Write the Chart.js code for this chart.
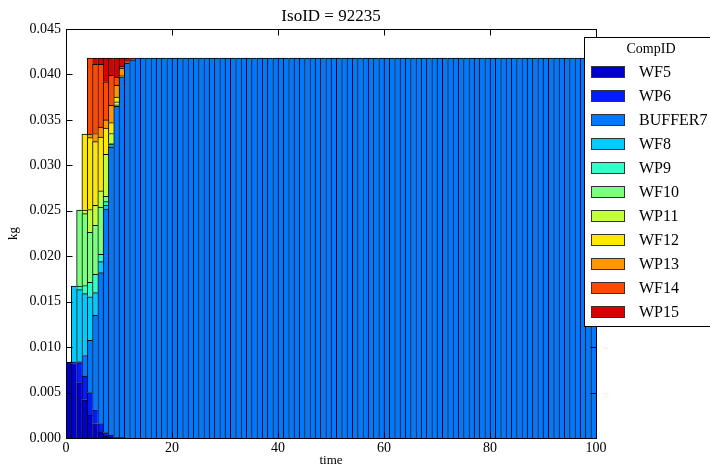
<!DOCTYPE html>
<html>
<head>
<meta charset="utf-8">
<script src="https://cdn.jsdelivr.net/npm/chart.js@4.4.1/dist/chart.umd.min.js"></script>
<style>
html,body{margin:0;padding:0;background:#fff;}
#wrap{width:710px;height:468px;position:relative;}
</style>
</head>
<body>
<div id="wrap"><canvas id="c" width="710" height="468"></canvas></div>
<script>
// time steps (one bar per step)
const times = Array.from({length: 100}, (_, i) => i);

const compIds = ['WF5', 'WP6', 'BUFFER7', 'WF8', 'WP9', 'WF10', 'WP11', 'WF12', 'WP13', 'WF14', 'WP15'];
const compColors = ['#0000cc', '#001cff', '#0078ff', '#00ccff', '#30ffc8', '#7aff7e', '#c2ff38', '#ffe800', '#ff9500', '#ff4800', '#d80000'];

// mass of U-235 (kg) held in each component at each time step
const wf5  = [0.00836, 0.0082, 0.0061, 0.0042, 0.0025, 0.0016, 0.0007, 0.0002, 0.0001, 0.00003, 0];
const wp6  = [0, 0.00016, 0.0022, 0.0026, 0.0025, 0.0015, 0.0009, 0.0004, 0.0002, 0.0001, 0.00004, 0];
const buffer7 = [0, 0, 0.00012, 0.00228, 0.00574, 0.0104, 0.0166, 0.0246, 0.0317, 0.03637, 0.03971, 0.04125, 0.0416,
  0.0418, 0.0418, 0.0418, 0.0418, 0.0418, 0.0418, 0.0418, 0.0418, 0.0418, 0.0418,
  0.0418, 0.0418, 0.0418, 0.0418, 0.0418, 0.0418, 0.0418, 0.0418, 0.0418, 0.0418,
  0.0418, 0.0418, 0.0418, 0.0418, 0.0418, 0.0418, 0.0418, 0.0418, 0.0418, 0.0418,
  0.0418, 0.0418, 0.0418, 0.0418, 0.0418, 0.0418, 0.0418, 0.0418, 0.0418, 0.0418,
  0.0418, 0.0418, 0.0418, 0.0418, 0.0418, 0.0418, 0.0418, 0.0418, 0.0418, 0.0418,
  0.0418, 0.0418, 0.0418, 0.0418, 0.0418, 0.0418, 0.0418, 0.0418, 0.0418, 0.0418,
  0.0418, 0.0418, 0.0418, 0.0418, 0.0418, 0.0418, 0.0418, 0.0418, 0.0418, 0.0418,
  0.0418, 0.0418, 0.0418, 0.0418, 0.0418, 0.0418, 0.0418, 0.0418, 0.0418, 0.0418,
  0.0418, 0.0418, 0.0418, 0.0418, 0.0418, 0.0418, 0.0418];
const wf8  = [0, 0.00836, 0.0079, 0.0068, 0.0048, 0.0025, 0.0012, 0.00044, 0.00015, 0.00005, 0];
const wp9  = [0, 0, 0.0004, 0.0009, 0.0016, 0.0020, 0.0008, 0.00036, 0.00015, 0.00005, 0];
const wf10 = [0, 0, 0.00836, 0.0079, 0.0055, 0.0054, 0.0052, 0.0006, 0.0001, 0.00005, 0];
const wp11 = [0, 0, 0, 0.0004, 0.0025, 0.0022, 0.0018, 0.0046, 0.0011, 0.00035, 0.00005, 0];
const wf12 = [0, 0, 0, 0.00836, 0.0079, 0.0070, 0.0059, 0.0029, 0.0012, 0.0005, 0.0001, 0];
const wp13 = [0, 0, 0, 0, 0.0004, 0.0009, 0.0011, 0.0009, 0.0019, 0.0013, 0.0008, 0.0001, 0.00005, 0];
const wf14 = [0, 0, 0, 0, 0.00836, 0.0076, 0.0069, 0.0042, 0.0033, 0.0009, 0.0002, 0.00005, 0];
const wp15 = [0, 0, 0, 0, 0, 0.0007, 0.0007, 0.0026, 0.0019, 0.0021, 0.0009, 0.0004, 0.00015, 0];

const series = [wf5, wp6, buffer7, wf8, wp9, wf10, wp11, wf12, wp13, wf14, wp15];

const yTicks = [0, 0.005, 0.010, 0.015, 0.020, 0.025, 0.030, 0.035, 0.040, 0.045];
const xTicks = [0, 20, 40, 60, 80, 100];

const SERIF = "'Liberation Serif', 'Times New Roman', serif";
Chart.defaults.font.family = SERIF;
Chart.defaults.color = '#000';

// frame, inward tick marks, titles and the legend box
const decorations = {
  id: 'decorations',
  afterDraw(chart) {
    const {ctx, chartArea: ca, scales} = chart;
    const L = Math.round(ca.left) + 0.5, R = Math.round(ca.right) + 0.5;
    const T = Math.round(ca.top) + 0.5, B = Math.round(ca.bottom) + 0.5;
    ctx.save();
    ctx.strokeStyle = '#000';
    ctx.lineWidth = 1;
    ctx.beginPath();
    yTicks.forEach(v => {
      const y = Math.round(scales.y.getPixelForValue(v)) + 0.5;
      ctx.moveTo(L, y); ctx.lineTo(L + 6, y);
      ctx.moveTo(R, y); ctx.lineTo(R - 6, y);
    });
    xTicks.forEach(v => {
      const x = Math.round(scales.xt.getPixelForValue(v)) + 0.5;
      ctx.moveTo(x, B); ctx.lineTo(x, B - 6);
      ctx.moveTo(x, T); ctx.lineTo(x, T + 6);
    });
    ctx.stroke();
    ctx.strokeRect(L, T, R - L, B - T);

    ctx.fillStyle = '#000';
    ctx.textAlign = 'center';
    ctx.textBaseline = 'middle';
    ctx.font = '17px ' + SERIF;
    ctx.fillText('IsoID = 92235', (ca.left + ca.right) / 2, 17);
    ctx.font = '13px ' + SERIF;
    ctx.fillText('time', (ca.left + ca.right) / 2, 461);
    ctx.save();
    ctx.translate(14, (ca.top + ca.bottom) / 2);
    ctx.rotate(-Math.PI / 2);
    ctx.fillText('kg', 0, 0);
    ctx.restore();

    // legend
    const bx = 584.5, by = 37.5;
    ctx.fillStyle = '#fff';
    ctx.fillRect(bx, by, 140, 289);
    ctx.strokeStyle = '#000';
    ctx.strokeRect(bx, by, 140, 289);
    ctx.fillStyle = '#000';
    ctx.font = '14px ' + SERIF;
    ctx.fillText('CompID', 651, 49);
    ctx.textAlign = 'left';
    ctx.font = '16px ' + SERIF;
    chart.data.datasets.forEach((ds, i) => {
      const yc = 72 + 24 * i;
      ctx.fillStyle = ds.backgroundColor;
      ctx.fillRect(591, yc - 6, 34, 12);
      ctx.strokeStyle = '#333';
      ctx.strokeRect(591.5, yc - 5.5, 33, 11);
      ctx.fillStyle = '#000';
      ctx.fillText(ds.label, 639, yc + 1);
    });
    ctx.restore();
  }
};

new Chart(document.getElementById('c'), {
  type: 'bar',
  data: {
    labels: times,
    datasets: series.map((d, i) => ({
      label: compIds[i],
      data: d,
      xAxisID: 'x',
      yAxisID: 'y',
      backgroundColor: compColors[i],
      borderColor: '#000',
      borderWidth: {top: 1, left: 1, right: 0, bottom: 0},
      borderSkipped: false,
      barPercentage: 1,
      categoryPercentage: 1
    }))
  },
  options: {
    responsive: false,
    animation: false,
    layout: {padding: {top: 29, right: 114, left: 0, bottom: 0}},
    plugins: {legend: {display: false}, tooltip: {enabled: false}, title: {display: false}},
    scales: {
      x: {type: 'category', stacked: true, display: false, offset: true},
      xt: {
        type: 'linear', axis: 'x', position: 'bottom', min: 0, max: 100, offset: false,
        afterBuildTicks(s) { s.ticks = xTicks.map(v => ({value: v})); },
        ticks: {font: {size: 14}, padding: 2, maxRotation: 0, callback: v => String(v)},
        grid: {display: false, drawTicks: false, offset: false},
        border: {display: false},
        afterFit(s) { s.height = 30; }
      },
      y: {
        stacked: true, min: 0, max: 0.045,
        afterBuildTicks(s) { s.ticks = yTicks.map(v => ({value: v})); },
        ticks: {font: {size: 14}, padding: 5, callback: v => Number(v).toFixed(3)},
        grid: {display: false, drawTicks: false},
        border: {display: false},
        afterFit(s) { s.width = 66; }
      }
    }
  },
  plugins: [decorations]
});
</script>
</body>
</html>
